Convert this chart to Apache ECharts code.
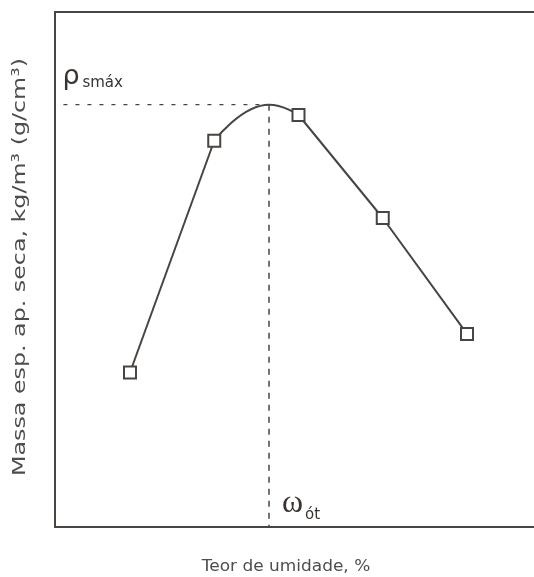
<!DOCTYPE html>
<html>
<head>
<meta charset="utf-8">
<script src="https://cdn.jsdelivr.net/npm/echarts@6/dist/echarts.min.js"></script>
<style>
  html, body { margin: 0; padding: 0; background: #ffffff; }
  #chart { width: 534px; height: 577px; }
</style>
</head>
<body>
<div id="chart"></div>
<script>
// Compaction test: dry density against moisture content
const moisture = [10, 12, 14, 16, 18];            // %
const density = [1.62, 1.80, 1.82, 1.74, 1.65];   // g/cm³
const optMoisture = 13.3;                          // ω ót
const maxDensity = 1.828;                          // ρ smáx
const xRange = [8.22, 19.59];
const yRange = [1.5, 1.9];
const guideStart = 8.42;

const xTitle = 'Teor de umidade, %';
const yTitle = 'Massa esp. ap. seca, kg/m³ (g/cm³)';

const ink = '#4a4441';
const pts = moisture.map((m, i) => [m, density[i]]);

const chart = echarts.init(document.getElementById('chart'), null, { renderer: 'canvas' });

const lineBase = {
  type: 'line', showSymbol: false, silent: true, animation: false,
  lineStyle: { color: ink, width: 2 }
};
const frameLine = { show: true, lineStyle: { color: ink, width: 2 } };
const bare = { axisTick: { show: false }, axisLabel: { show: false }, splitLine: { show: false } };

chart.setOption({
  backgroundColor: '#ffffff',
  animation: false,
  grid: { left: 55, right: 0, top: 12, bottom: 50 },
  xAxis: [
    Object.assign({ type: 'value', position: 'bottom', min: xRange[0], max: xRange[1],
      axisLine: Object.assign({ onZero: false }, frameLine) }, bare),
    Object.assign({ type: 'value', position: 'top', min: xRange[0], max: xRange[1],
      axisLine: Object.assign({ onZero: false }, frameLine) }, bare)
  ],
  yAxis: Object.assign({ type: 'value', position: 'left', min: yRange[0], max: yRange[1],
    axisLine: Object.assign({ onZero: false }, frameLine) }, bare),
  series: [
    // dry side of the curve
    Object.assign({}, lineBase, { data: pts.slice(0, 2) }),
    // rounded crest through the maximum
    Object.assign({}, lineBase, {
      data: [pts[1], [optMoisture, maxDensity], pts[2]],
      smooth: 0.5, smoothMonotone: 'x'
    }),
    // wet side of the curve
    Object.assign({}, lineBase, { data: pts.slice(2) }),
    // guide to the maximum density
    Object.assign({}, lineBase, {
      data: [[guideStart, maxDensity], [optMoisture, maxDensity]],
      lineStyle: { color: ink, width: 1.3, type: [4, 8] }
    }),
    // guide to the optimum moisture content
    Object.assign({}, lineBase, {
      data: [[optMoisture, maxDensity], [optMoisture, yRange[0]]],
      lineStyle: { color: ink, width: 1.5, type: [6, 6] }
    }),
    {
      type: 'scatter', silent: true, animation: false, z: 5,
      symbol: 'rect', symbolSize: 12,
      itemStyle: { color: '#ffffff', borderColor: ink, borderWidth: 2, opacity: 1 },
      data: pts
    }
  ]
});

// annotations placed from the crest position
const peak = chart.convertToPixel({ gridIndex: 0 }, [optMoisture, maxDensity]);
const start = chart.convertToPixel({ gridIndex: 0 }, [guideStart, maxDensity]);
const base = chart.convertToPixel({ gridIndex: 0 }, [optMoisture, yRange[0]]);

chart.setOption({
  graphic: [
    { type: 'text', silent: true, style: {
        text: 'ρ', x: start[0] - 1, y: peak[1] - 28, font: '27px "DejaVu Sans"', fill: '#3a3431',
        textAlign: 'left', textVerticalAlign: 'middle' } },
    { type: 'text', silent: true, style: {
        text: 'smáx', x: start[0] + 19, y: peak[1] - 22, font: '15px "DejaVu Sans"', fill: '#3a3431',
        textAlign: 'left', textVerticalAlign: 'middle' } },
    { type: 'text', silent: true, style: {
        text: 'ω', x: peak[0] + 13, y: base[1] - 23, font: '32px "Liberation Serif"', fill: '#3a3431',
        textAlign: 'left', textVerticalAlign: 'middle' } },
    { type: 'text', silent: true, style: {
        text: 'ót', x: peak[0] + 36, y: base[1] - 12, font: '15px "DejaVu Sans"', fill: '#3a3431',
        textAlign: 'left', textVerticalAlign: 'middle' } },
    { type: 'text', silent: true, x: 286, y: 567, scaleX: 1.06, style: {
        text: xTitle, x: 0, y: 0, font: '16px "DejaVu Sans"', fill: '#4d4d4d',
        textAlign: 'center', textVerticalAlign: 'middle' } },
    { type: 'text', silent: true, rotation: Math.PI / 2, x: 20, y: 267, scaleX: 1.32, style: {
        text: yTitle, x: 0, y: 0, font: '18px "DejaVu Sans"', fill: '#4d4d4d',
        textAlign: 'center', textVerticalAlign: 'middle' } }
  ]
});
</script>
</body>
</html>
